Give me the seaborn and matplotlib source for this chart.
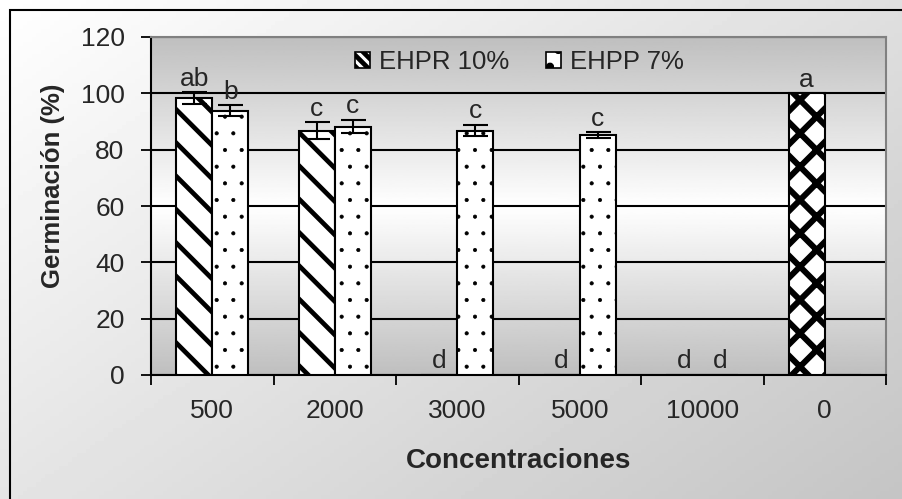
# import the libraries
import numpy as np
import pandas as pd
import seaborn as sns
import matplotlib.pyplot as plt
from matplotlib.patches import Rectangle

# chart data
categories = ["500", "2000", "3000", "5000", "10000", "0"]
ehpr = [98.3, 86.7, 0, 0, 0]           # EHPR 10% (no bar at "0")
ehpp = [93.9, 88.2, 86.7, 85.2, 0]     # EHPP 7% (no bar at "0")
control = 100                           # control at "0"
ehpr_err = [2.0, 3.0, 0, 0, 0, 0]
ehpp_err = [1.8, 2.3, 2.0, 1.0, 0, 0]
ehpr_letters = ["ab", "c", "d", "d", "d", "a"]
ehpp_letters = ["b", "c", "c", "c", "d", ""]
series = ["EHPR 10%", "EHPP 7%"]

# build a table for seaborn, the control goes in the first slot of "0"
df = pd.DataFrame({
    "conc": categories + categories,
    "germ": ehpr + [control] + ehpp + [0],
    "serie": [series[0]] * 6 + [series[1]] * 6,
})

sns.set_theme(style="white")
plt.rcParams["font.family"] = ["Liberation Sans", "DejaVu Sans"]
plt.rcParams["hatch.color"] = "black"
plt.rcParams["hatch.linewidth"] = 3.4

fig = plt.figure(figsize=(9.03, 4.99), dpi=100)

# figure background gradient (white top-left to grey bottom-right)
bg = fig.add_axes([0, 0, 1, 1], zorder=-10)
gx, gy = np.meshgrid(np.linspace(0, 1, 200), np.linspace(0, 1, 120))
bg.imshow(1 - 0.23 * (0.55 * gx + 0.45 * gy), cmap="gray", vmin=0, vmax=1,
          aspect="auto", extent=[0, 1, 1, 0])
bg.set_axis_off()
fig.patches.append(Rectangle((0.011, -0.1), 1.2, 1.08, transform=fig.transFigure,
                             fill=False, edgecolor="black", linewidth=1.5, zorder=5))

ax = fig.add_axes([151 / 903, 1 - 375 / 499, 735 / 903, 338 / 499])

sns.barplot(data=df, x="conc", y="germ", hue="serie", hue_order=series,
            order=categories, width=0.59, gap=0, palette=["white", "white"],
            edgecolor="black", linewidth=1.5, errorbar=None, ax=ax, zorder=3,
            legend=False)

# fill patterns: stripes for EHPR, dots for EHPP
hatches = ["\\", "."]
for cont, h in zip(ax.containers, hatches):
    for bar in cont:
        bar.set_hatch(h)
        bar.set_edgecolor("black")
        if h == "." and hasattr(bar, "set_hatch_linewidth"):
            bar.set_hatch_linewidth(0.5)
# control bar gets the diamond pattern
ctrl_bar = ax.containers[0][5]
ctrl_bar.set_hatch("x")
if hasattr(ctrl_bar, "set_hatch_linewidth"):
    ctrl_bar.set_hatch_linewidth(4.3)

# error bars and letters
for cont, errs, letters in zip(ax.containers, [ehpr_err, ehpp_err],
                               [ehpr_letters, ehpp_letters]):
    for bar, e, lt in zip(cont, errs, letters):
        xc = bar.get_x() + bar.get_width() / 2
        h = bar.get_height()
        if e > 0:
            ax.errorbar(xc, h, yerr=e, color="black", capsize=9,
                        elinewidth=1.5, capthick=1.5, zorder=4)
        if lt:
            ax.text(xc, h + e + 0.6, lt, ha="center", va="bottom",
                    fontsize=19, zorder=5)

# plot area gradient: grey at top and bottom, white in the middle
gv = np.linspace(0, 1, 200)[:, None]
ax.imshow(0.75 + 0.25 * (1 - np.abs(gv - 0.5) * 2), cmap="gray", vmin=0, vmax=1,
          aspect="auto", extent=[-0.5, 5.5, 0, 120], zorder=0)

ax.set_xlim(-0.5, 5.5)
ax.set_ylim(0, 120)
ax.set_yticks(range(0, 121, 20))
ax.yaxis.grid(True, color="black", linewidth=1.5)
for line in ax.get_ygridlines():
    line.set_zorder(1)

ax.set_xticks(np.arange(-0.5, 6, 1), minor=True)
ax.tick_params(axis="x", which="major", length=0, labelsize=19, pad=17)
ax.tick_params(axis="x", which="minor", length=7, width=1.3, color="black",
               direction="out", bottom=True)
ax.tick_params(axis="y", length=7, width=1.3, color="black", direction="out",
               left=True, labelsize=19, pad=12)

for s in ["top", "right"]:
    ax.spines[s].set_color("#808080")
    ax.spines[s].set_linewidth(1.5)
for s in ["left", "bottom"]:
    ax.spines[s].set_color("black")
    ax.spines[s].set_linewidth(1.5)

ax.set_xlabel("Concentraciones", fontsize=20, fontweight="bold")
ax.set_ylabel("Germinación (%)", fontsize=18.5, fontweight="bold")
ax.xaxis.set_label_coords(0.5, -0.215)
ax.yaxis.set_label_coords(-0.117, 0.56)

# legend with small pattern swatches
h1 = Rectangle((0, 0), 1, 1, facecolor="white", edgecolor="black", hatch="\\\\\\", linewidth=1.2)
h2 = Rectangle((0, 0), 1, 1, facecolor="white", edgecolor="black", hatch=".", linewidth=1.2)
if hasattr(h1, "set_hatch_linewidth"):
    h1.set_hatch_linewidth(2.0)
    h2.set_hatch_linewidth(0.5)
ax.legend(handles=[h1, h2], labels=series,
          loc="center left", bbox_to_anchor=(0.26, 0.926), ncol=2,
          frameon=False, fontsize=18.5, borderpad=0, handlelength=0.6,
          handleheight=0.6, columnspacing=1.4, handletextpad=0.35)

fig.savefig("out.png", dpi=100)
